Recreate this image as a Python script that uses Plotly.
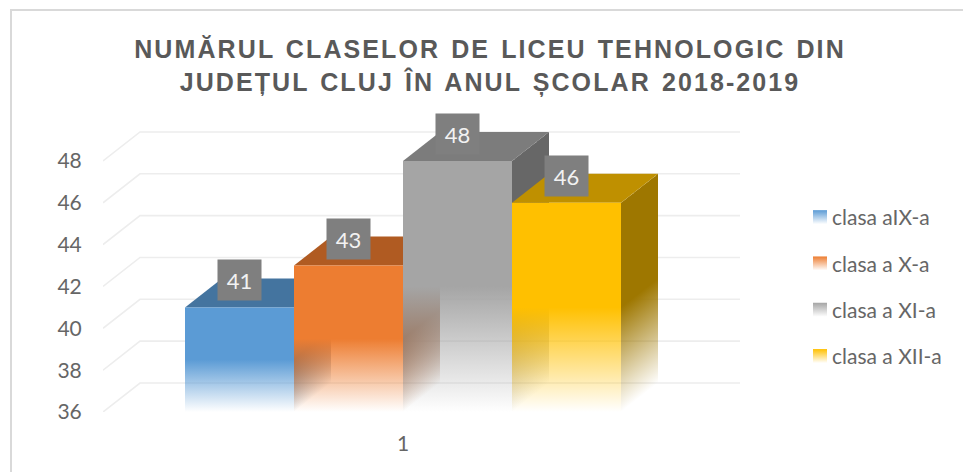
import plotly.graph_objects as go

categories = ["1"]
series_names = ["clasa aIX-a", "clasa a X-a", "clasa a XI-a", "clasa a XII-a"]
values = [41, 43, 48, 46]
y_ticks = [36, 38, 40, 42, 44, 46, 48]
front_colors = ["91,155,213", "237,125,49", "165,165,165", "255,192,0"]
top_colors = ["#44749f", "#b05b22", "#7c7c7c", "#bf9000"]
side_colors = ["56,95,132", "145,73,27", "103,103,103", "158,119,0"]
title_text = "NUMĂRUL CLASELOR DE LICEU TEHNOLOGIC DIN<br>JUDEȚUL CLUJ ÎN ANUL ȘCOLAR 2018-2019"

W, H = 963, 472
L, R, T, B = 103, 223, 130, 60
PX_X = 436.0                 # pixels per x unit
PX_Y = 20.92                 # pixels per value unit
BASE = 36
BAR_W = 0.25
DEPTH_X = 37 / PX_X
DEPTH_Y = 29 / PX_Y
XC = 1.0
x0 = XC - (403 - L) / PX_X
x1 = x0 + (W - L - R) / PX_X
y1 = BASE + (H - T - B) / PX_Y

fig = go.Figure()
skip = dict(mode="lines", line=dict(width=0), fill="toself", showlegend=False, hoverinfo="skip")

# back-wall / side-wall gridlines
for v in y_ticks:
    fig.add_trace(go.Scatter(
        x=[x0, x0 + DEPTH_X, x1], y=[v, v + DEPTH_Y, v + DEPTH_Y],
        mode="lines", line=dict(color="#ededed", width=1.6),
        showlegend=False, hoverinfo="skip"))

for i, v in enumerate(values):
    xl = XC + (i - 2) * BAR_W
    xr = xl + BAR_W
    mid = (BASE + v) / 2
    # side face, one column per pixel so that the fade follows the skew
    n = 37
    for k in range(n):
        a, b = k / n, (k + 1) / n
        xa, xb = xr + a * DEPTH_X, xr + b * DEPTH_X
        ya, yb = a * DEPTH_Y, b * DEPTH_Y
        c = (ya + yb) / 2
        fig.add_trace(go.Scatter(
            x=[xa, xb, xb, xa, xa],
            y=[BASE + ya, BASE + yb, v + yb, v + ya, BASE + ya],
            fillgradient=dict(type="vertical", start=BASE + c, stop=mid + c, colorscale=[
                [0, f"rgba({side_colors[i]},0)"], [1, f"rgba({side_colors[i]},1)"]]),
            **skip))
    # top face
    fig.add_trace(go.Scatter(
        x=[xl, xr, xr + DEPTH_X, xl + DEPTH_X, xl],
        y=[v, v, v + DEPTH_Y, v + DEPTH_Y, v],
        fillcolor=top_colors[i], **skip))
    # front face
    fig.add_trace(go.Scatter(
        x=[xl, xr, xr, xl, xl], y=[BASE, BASE, v, v, BASE],
        fillgradient=dict(type="vertical", start=BASE, stop=mid, colorscale=[
            [0, f"rgba({front_colors[i]},0)"], [1, f"rgba({front_colors[i]},1)"]]),
        **skip))
    # legend entry
    fig.add_trace(go.Scatter(
        x=[None], y=[None], mode="markers", name=series_names[i], legendgroup=series_names[i],
        marker=dict(symbol="square", size=14, color=f"rgb({front_colors[i]})",
                    gradient=dict(type="vertical", color="white"), line=dict(width=0))))
    fig.add_annotation(
        x=(xl + xr) / 2, y=v, xref="x", yref="y", yshift=27, text=str(v), showarrow=False,
        bgcolor="#7f7f7f", width=41, height=38, valign="middle",
        font=dict(family="Lato", size=22, color="#f2f2f2"))

fig.update_layout(
    width=W, height=H, autosize=False, paper_bgcolor="white", plot_bgcolor="white",
    margin=dict(l=L, r=R, t=T, b=B, autoexpand=False),
    title=dict(text=title_text, x=490 / W, xanchor="center", y=0.877, yanchor="top",
               font=dict(family="Liberation Sans", size=25, weight="bold", color="#595959")),
    xaxis=dict(range=[x0, x1], tickvals=[XC], ticktext=categories, showgrid=False, zeroline=False,
               showline=False, ticks="outside", ticklen=13, tickcolor="rgba(0,0,0,0)",
               tickfont=dict(family="Lato", size=21, color="#666666")),
    yaxis=dict(range=[BASE, y1], tickvals=y_ticks, showgrid=False, zeroline=False, showline=False,
               ticks="outside", ticklen=16, tickcolor="rgba(0,0,0,0)",
               tickfont=dict(family="Lato", size=21, color="#666666")),
    legend=dict(x=(800 - L) / (W - L - R), xanchor="left", y=(H - B - 197) / (H - T - B), yanchor="top",
                tracegroupgap=16, itemclick=False, itemdoubleclick=False,
                font=dict(family="Lato", size=21, color="#666666")),
    shapes=[dict(type="rect", xref="paper", yref="paper",
                 x0=(11 - L) / (W - L - R), x1=(W + 10 - L) / (W - L - R),
                 y0=(H - B - (H + 10)) / (H - T - B), y1=(H - B - 10) / (H - T - B),
                 line=dict(color="#d9d9d9", width=2), layer="below")],
)

post = """
document.body.style.margin = '0';
document.querySelectorAll('.gtitle').forEach(function (e) {
  e.style.letterSpacing = '2.1px';
  e.style.wordSpacing = '2px';
});
document.querySelectorAll('.legendtext').forEach(function (e) {
  e.setAttribute('x', parseFloat(e.getAttribute('x')) - 8);
});
"""
fig.write_html("out.html", post_script=post, config={"displayModeBar": False})
